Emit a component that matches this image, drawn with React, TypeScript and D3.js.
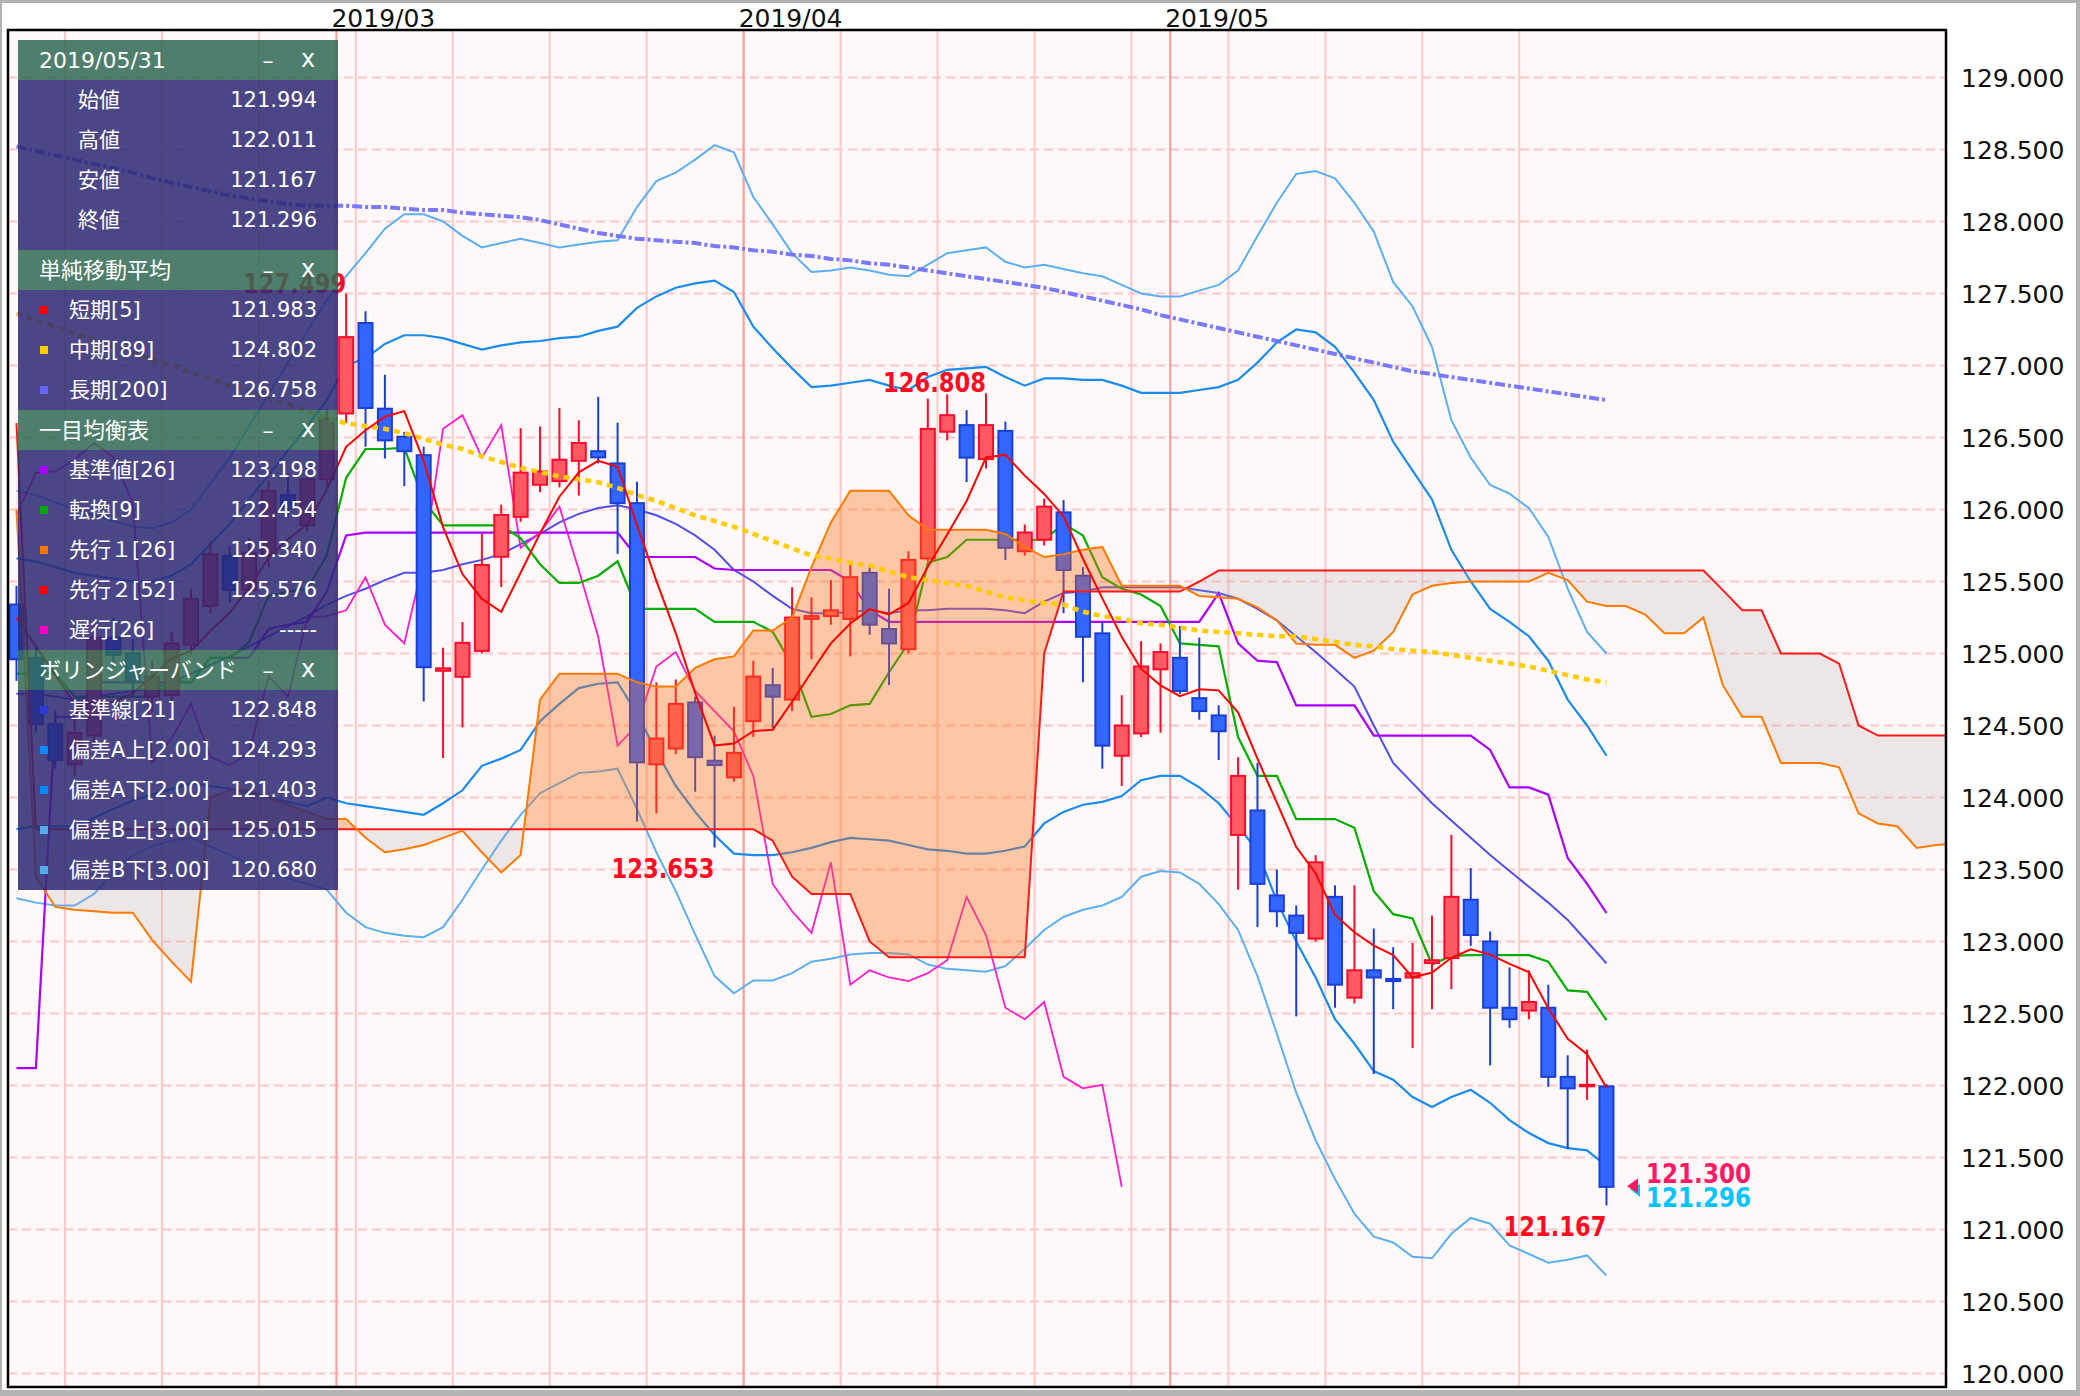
import React from 'react';
import * as d3 from 'd3';

// ---------------- data ----------------
// trading days 2019/02/06 .. 2019/05/31 (weekdays)
const dates: Date[] = d3.timeDay
  .range(new Date(2019, 1, 6), new Date(2019, 5, 1))
  .filter((d) => d.getDay() % 6 !== 0);

const opens = [
  125.34, 124.97, 124.51, 124.23, 124.43, 125.11, 125.0, 124.7, 124.71, 125.06,
  125.33, 125.68, 125.44, 125.69, 126.1, 125.89, 126.21, 126.667, 127.295, 126.7,
  126.505, 126.377, 124.88, 124.838, 125.018, 125.672, 125.949, 126.172, 126.197, 126.338,
  126.405, 126.32, 126.044, 124.23, 124.34, 124.66, 124.255, 124.14, 124.53, 124.78,
  124.68, 125.24, 125.26, 125.24, 125.56, 125.17, 125.03, 125.66, 126.54, 126.586,
  126.35, 126.546, 125.71, 125.79, 125.98, 125.54, 125.14, 124.29, 124.445, 124.89,
  124.97, 124.69, 124.57, 123.74, 123.91, 123.32, 123.18, 123.02, 123.31, 122.61,
  122.8, 122.74, 122.75, 122.85, 122.885, 123.29, 123.0, 122.54, 122.52, 122.54,
  122.06, 121.996, 121.994,
];
const highs = [
  125.47, 125.05, 124.6, 124.55, 125.2, 125.25, 125.1, 124.95, 125.15, 125.45,
  125.78, 125.75, 125.8, 126.2, 126.25, 126.3, 126.7, 127.499, 127.377, 126.936,
  126.538, 126.436, 125.04, 125.218, 125.833, 126.033, 126.564, 126.577, 126.705, 126.62,
  126.782, 126.603, 126.192, 124.8, 124.82, 124.7, 124.43, 124.63, 124.95, 124.9,
  125.46, 125.39, 125.51, 125.625, 125.61, 125.45, 125.71, 126.77, 126.8, 126.69,
  126.808, 126.61, 125.896, 126.076, 126.065, 125.6, 125.22, 124.71, 125.086, 125.07,
  125.19, 125.11, 124.64, 124.28, 124.24, 123.5, 123.25, 123.6, 123.39, 123.39,
  123.09, 122.96, 122.99, 123.18, 123.74, 123.51, 123.07, 122.82, 122.8, 122.7,
  122.21, 122.25, 122.011,
];
const lows = [
  124.81, 124.45, 124.2, 124.15, 124.35, 124.9, 124.7, 124.6, 124.65, 125.0,
  125.28, 125.35, 125.38, 125.6, 125.95, 125.85, 126.15, 126.6, 126.436, 126.354,
  126.162, 124.667, 124.274, 124.487, 125.0, 125.462, 125.915, 126.12, 126.154, 126.097,
  126.32, 125.692, 123.833, 123.89, 124.3, 124.04, 123.653, 124.11, 124.42, 124.48,
  124.6, 124.96, 125.2, 124.98, 125.13, 124.78, 125.0, 125.64, 126.48, 126.19,
  126.285, 125.65, 125.68, 125.75, 125.28, 124.8, 124.2, 124.08, 124.42, 124.45,
  124.72, 124.54, 124.26, 123.36, 123.1, 123.1, 122.48, 123.0, 122.54, 122.57,
  122.08, 122.53, 122.26, 122.53, 122.67, 122.97, 122.14, 122.4, 122.46, 121.99,
  121.56, 121.9, 121.167,
];
const closes = [
  124.96, 124.51, 124.26, 124.45, 125.11, 124.99, 124.81, 124.84, 125.07, 125.38,
  125.69, 125.44, 125.7, 126.13, 126.01, 126.21, 126.63, 127.197, 126.705, 126.48,
  126.405, 124.905, 124.897, 125.074, 125.615, 125.962, 126.256, 126.264, 126.346, 126.462,
  126.362, 126.044, 124.244, 124.41, 124.65, 124.28, 124.225, 124.31, 124.84, 124.7,
  125.25, 125.26, 125.3, 125.53, 125.2, 125.07, 125.65, 126.56, 126.655, 126.36,
  126.586, 125.734, 125.84, 126.02, 125.58, 125.116, 124.36, 124.5, 124.91, 125.01,
  124.74, 124.6, 124.46, 124.15, 123.4, 123.21, 123.06, 123.55, 122.7, 122.8,
  122.75, 122.725, 122.78, 122.87, 123.31, 123.045, 122.54, 122.46, 122.58, 122.06,
  121.98, 122.005, 121.296,
];

const sma5 = [
  125.25, 125.05, 124.85, 124.65, 124.658, 124.664, 124.724, 124.84, 124.964, 125.018,
  125.158, 125.284, 125.456, 125.668, 125.794, 125.898, 126.136, 126.435, 126.55, 126.644,
  126.683, 126.338, 125.878, 125.552, 125.379, 125.29, 125.561, 125.834, 126.089, 126.258,
  126.338, 126.296, 125.892, 125.504, 125.142, 124.726, 124.362, 124.375, 124.461, 124.471,
  124.665, 124.872, 125.07, 125.208, 125.308, 125.272, 125.35, 125.602, 125.827, 126.059,
  126.362, 126.379, 126.235, 126.108, 125.952, 125.658, 125.383, 125.115, 124.893, 124.779,
  124.704, 124.752, 124.744, 124.592, 124.27, 123.964, 123.656, 123.474, 123.184, 123.064,
  122.972, 122.905, 122.751, 122.785, 122.887, 122.946, 122.909, 122.845, 122.787, 122.537,
  122.324, 122.217, 121.984,
];
const sma89 = [
  127.36, 127.31, 127.27, 127.22, 127.18, 127.13, 127.09, 127.04, 127.0, 126.95,
  126.91, 126.86, 126.82, 126.77, 126.73, 126.68, 126.63, 126.6, 126.58, 126.56,
  126.53, 126.49, 126.45, 126.42, 126.37, 126.33, 126.29, 126.26, 126.23, 126.21,
  126.19, 126.15, 126.1, 126.06, 126.01, 125.96, 125.92, 125.88, 125.83, 125.78,
  125.73, 125.68, 125.66, 125.63, 125.61, 125.57, 125.53, 125.51, 125.49, 125.47,
  125.43, 125.39, 125.37, 125.35, 125.34, 125.29, 125.26, 125.24, 125.21, 125.2,
  125.18, 125.16, 125.15, 125.14, 125.13, 125.12, 125.12, 125.1, 125.08, 125.06,
  125.05, 125.03, 125.02, 125.01, 124.99, 124.97, 124.95, 124.93, 124.91, 124.88,
  124.85, 124.82, 124.8,
];
const sma200 = [
  128.52, 128.49, 128.46, 128.43, 128.4, 128.37, 128.34, 128.3, 128.27, 128.24,
  128.21, 128.18, 128.16, 128.14, 128.12, 128.11, 128.11, 128.11, 128.1, 128.1,
  128.09, 128.08, 128.08, 128.06, 128.05, 128.04, 128.03, 128.01, 127.98, 127.95,
  127.92, 127.9, 127.88, 127.87, 127.86, 127.85, 127.83, 127.82, 127.8, 127.79,
  127.77, 127.76, 127.74, 127.73, 127.71, 127.7, 127.68, 127.66, 127.64, 127.62,
  127.6, 127.58, 127.56, 127.54, 127.51, 127.48, 127.45, 127.42, 127.39, 127.35,
  127.32, 127.29, 127.26, 127.23, 127.2, 127.17, 127.14, 127.11, 127.08, 127.05,
  127.02, 126.99, 126.96, 126.94, 126.92, 126.9, 126.88, 126.86, 126.84, 126.82,
  126.8, 126.78, 126.76,
];

const tenkan = [
  124.86, 124.86, 124.86, 124.7, 124.7, 124.7, 124.7, 124.7, 124.81, 124.8,
  124.97, 124.97, 125.08, 125.4, 125.43, 125.45, 125.68, 126.22, 126.42, 126.42,
  126.43, 126.06, 125.89, 125.89, 125.89, 125.89, 125.8, 125.62, 125.49, 125.49,
  125.54, 125.64, 125.31, 125.31, 125.31, 125.31, 125.22, 125.22, 125.22, 125.15,
  124.92, 124.56, 124.58, 124.64, 124.65, 124.87, 125.07, 125.63, 125.67, 125.79,
  125.79, 125.79, 125.79, 125.79, 125.9, 125.82, 125.53, 125.45, 125.41, 125.33,
  125.07, 125.06, 125.05, 124.42, 124.15, 124.15, 123.85, 123.85, 123.85, 123.79,
  123.35, 123.19, 123.16, 122.84, 122.9, 122.905, 122.905, 122.905, 122.905, 122.86,
  122.66, 122.65, 122.454,
];
const kijun = [
  122.12, 122.12, 124.56, 124.56, 124.8, 124.8, 124.8, 124.8, 124.8, 124.8,
  124.97, 124.97, 124.97, 125.17, 125.2, 125.22, 125.43, 125.82, 125.84, 125.84,
  125.84, 125.84, 125.84, 125.84, 125.84, 125.84, 125.84, 125.84, 125.84, 125.84,
  125.84, 125.84, 125.67, 125.67, 125.67, 125.67, 125.59, 125.58, 125.58, 125.58,
  125.58, 125.58, 125.58, 125.5, 125.3, 125.22, 125.22, 125.22, 125.22, 125.22,
  125.22, 125.22, 125.22, 125.22, 125.22, 125.22, 125.22, 125.22, 125.22, 125.22,
  125.22, 125.22, 125.42, 125.07, 124.95, 124.94, 124.64, 124.64, 124.64, 124.64,
  124.43, 124.43, 124.43, 124.43, 124.43, 124.43, 124.33, 124.07, 124.07, 124.02,
  123.58, 123.4, 123.198,
];
// leading spans, plotted 25 bars ahead (indices run past the last candle)
const senkouA = [
  126.0, 123.45, 123.24, 123.22, 123.21, 123.2, 123.2, 123.01, 122.86, 122.72,
  124.0, 124.05, 124.05, 124.0, 123.95, 123.9, 123.85, 123.85, 123.72, 123.62,
  123.64, 123.67, 123.72, 123.77, 123.62, 123.48, 123.6, 124.68, 124.86, 124.86,
  124.86, 124.86, 124.8, 124.77, 124.77, 124.9, 124.96, 124.98, 125.16, 125.16,
  125.25, 125.6, 125.91, 126.13, 126.13, 126.13, 125.96, 125.86, 125.86, 125.86,
  125.86, 125.83, 125.74, 125.67, 125.69, 125.72, 125.74, 125.47, 125.47, 125.47,
  125.47, 125.4, 125.39, 125.38, 125.32, 125.23, 125.07, 125.06, 125.06, 124.97,
  125.02, 125.15, 125.41, 125.47, 125.49, 125.5, 125.5, 125.5, 125.5, 125.56,
  125.51, 125.36, 125.33, 125.33, 125.27, 125.14, 125.14, 125.25, 124.78, 124.56,
  124.56, 124.24, 124.24, 124.24, 124.21, 123.89, 123.82, 123.8, 123.65, 123.67,
  123.68,
];
const senkouB = [
  126.6, 123.78, 123.78, 123.78, 123.78, 123.78, 123.78, 123.78, 123.78, 123.78,
  123.78, 123.78, 123.78, 123.78, 123.78, 123.78, 123.78, 123.78, 123.78, 123.78,
  123.78, 123.78, 123.78, 123.78, 123.78, 123.78, 123.78, 123.78, 123.78, 123.78,
  123.78, 123.78, 123.78, 123.78, 123.78, 123.78, 123.78, 123.78, 123.78, 123.7,
  123.45, 123.33, 123.33, 123.33, 123.0, 122.89, 122.89, 122.89, 122.89, 122.89,
  122.89, 122.89, 122.89, 125.0, 125.43, 125.43, 125.43, 125.43, 125.43, 125.43,
  125.43, 125.5, 125.576, 125.576, 125.576, 125.576, 125.576, 125.576, 125.576, 125.576,
  125.576, 125.576, 125.576, 125.576, 125.576, 125.576, 125.576, 125.576, 125.576, 125.576,
  125.576, 125.576, 125.576, 125.576, 125.576, 125.576, 125.576, 125.576, 125.44, 125.3,
  125.3, 125.0, 125.0, 125.0, 124.93, 124.5, 124.43, 124.43, 124.43, 124.43,
  124.43,
];

const bbMid = [
  124.72, 124.72, 124.7, 124.68, 124.7, 124.72, 124.74, 124.76, 124.8, 124.86,
  124.92, 124.98, 125.05, 125.12, 125.19, 125.26, 125.34, 125.4, 125.45, 125.51,
  125.56, 125.56, 125.58, 125.62, 125.65, 125.69, 125.76, 125.83, 125.91, 125.97,
  126.01, 126.03, 126.0, 125.96, 125.9, 125.82, 125.72, 125.58, 125.5, 125.4,
  125.31, 125.28, 125.28, 125.29, 125.3, 125.28, 125.3, 125.3, 125.31, 125.31,
  125.31, 125.3, 125.28, 125.36, 125.42, 125.43, 125.46, 125.46, 125.46, 125.46,
  125.46, 125.44, 125.42, 125.38, 125.31, 125.23, 125.12, 125.01, 124.89, 124.77,
  124.5, 124.24, 124.1, 123.96, 123.84, 123.72, 123.6, 123.49, 123.38, 123.27,
  123.15, 123.0, 122.848,
];
const bbUp2 = [
  125.66, 125.64, 125.6, 125.56, 125.54, 125.52, 125.5, 125.5, 125.54, 125.62,
  125.76, 125.9, 126.07, 126.24, 126.41, 126.58, 126.76, 127.0, 127.05, 127.15,
  127.21, 127.21, 127.19, 127.15, 127.11, 127.14, 127.16, 127.17, 127.19, 127.2,
  127.24, 127.27, 127.4, 127.48, 127.54, 127.57, 127.59, 127.51, 127.27, 127.12,
  126.98, 126.85, 126.86, 126.88, 126.9, 126.86, 126.83, 126.92, 126.97, 126.98,
  126.99, 126.92, 126.86, 126.91, 126.91, 126.9, 126.9, 126.86, 126.81, 126.81,
  126.81, 126.83, 126.85, 126.9, 127.02, 127.16, 127.25, 127.23, 127.13, 126.95,
  126.76, 126.47, 126.27, 126.07, 125.72, 125.5, 125.31, 125.22, 125.12, 124.95,
  124.68, 124.5, 124.29,
];
const bbLo2 = [
  123.78, 123.8, 123.8, 123.8, 123.86, 123.92, 123.98, 124.02, 124.06, 124.1,
  124.08, 124.06, 124.03, 124.0, 123.97, 123.94, 124.0, 123.96, 123.94, 123.92,
  123.9, 123.88, 123.96, 124.05, 124.22, 124.27, 124.33, 124.53, 124.65, 124.76,
  124.79, 124.8, 124.58, 124.32, 124.08, 123.9, 123.74, 123.61, 123.6, 123.6,
  123.62, 123.65, 123.69, 123.72, 123.71, 123.7, 123.67, 123.64, 123.63, 123.61,
  123.61, 123.63, 123.66, 123.82, 123.9, 123.95, 123.97, 124.01, 124.12, 124.15,
  124.15, 124.07, 123.96, 123.8, 123.63, 123.28, 123.0, 122.75, 122.46, 122.29,
  122.1, 122.04, 121.92, 121.85, 121.92, 121.97, 121.88, 121.76, 121.67, 121.6,
  121.565, 121.55, 121.44,
];
const bbUp3 = [
  126.13, 126.1, 126.05, 126.0, 125.96, 125.92, 125.88, 125.87, 125.91, 126.0,
  126.18, 126.36, 126.58, 126.8, 127.02, 127.24, 127.45, 127.62, 127.78, 127.95,
  128.05, 128.05, 128.0, 127.9, 127.82, 127.85, 127.88, 127.85, 127.82, 127.84,
  127.86, 127.87, 128.1, 128.28, 128.34, 128.43, 128.53, 128.48, 128.17, 127.98,
  127.78, 127.65, 127.66, 127.68, 127.66, 127.63, 127.62, 127.7, 127.78, 127.8,
  127.82, 127.72, 127.68, 127.7, 127.67, 127.64, 127.62, 127.56, 127.5, 127.48,
  127.48, 127.52, 127.56, 127.66, 127.9, 128.13, 128.33, 128.35, 128.3, 128.13,
  127.93, 127.58, 127.41, 127.13, 126.62, 126.36, 126.17, 126.11, 126.01, 125.81,
  125.45, 125.15, 125.0,
];
const bbLo3 = [
  123.3, 123.27, 123.25, 123.25, 123.33, 123.48, 123.6, 123.66, 123.7, 123.72,
  123.66, 123.6, 123.54, 123.48, 123.44, 123.4, 123.36, 123.2, 123.1, 123.06,
  123.04, 123.03, 123.1, 123.29, 123.5, 123.7, 123.88, 124.03, 124.1, 124.17,
  124.18, 124.2, 123.92, 123.62, 123.35, 123.05, 122.76, 122.64, 122.73, 122.73,
  122.78, 122.86, 122.88, 122.91, 122.92, 122.92, 122.91, 122.84, 122.81, 122.8,
  122.79, 122.83, 122.95, 123.08, 123.17, 123.22, 123.25, 123.31, 123.45, 123.49,
  123.48, 123.4, 123.26, 123.08, 122.76, 122.36, 121.95, 121.62, 121.35, 121.11,
  120.95, 120.91, 120.81, 120.8, 120.97, 121.08, 121.04, 120.89, 120.83, 120.77,
  120.79, 120.82, 120.68,
];
// lagging span: close plotted 25 bars back
const CHIKOU_SHIFT = 25;

const yTicks = [120, 120.5, 121, 121.5, 122, 122.5, 123, 123.5, 124, 124.5, 125, 125.5, 126, 126.5, 127, 127.5, 128, 128.5, 129];

const highMarks = [17, 50]; // candle indices with labelled highs
const lowMarks = [36, 82]; // candle indices with labelled lows
const askPrice = 121.3;

const smaRows = [
  { label: '短期[5]', color: '#ff0000', value: 121.983 },
  { label: '中期[89]', color: '#ffcc00', value: 124.802 },
  { label: '長期[200]', color: '#6666ff', value: 126.758 },
];
const ichiRows = [
  { label: '基準値[26]', color: '#aa00ff', value: 123.198 },
  { label: '転換[9]', color: '#00aa00', value: 122.454 },
  { label: '先行１[26]', color: '#ff7700', value: 125.34 },
  { label: '先行２[52]', color: '#ff0000', value: 125.576 },
  { label: '遅行[26]', color: '#ff00cc', value: null as number | null },
];
const bbRows = [
  { label: '基準線[21]', color: '#2a3ad8', value: 122.848 },
  { label: '偏差A上[2.00]', color: '#0a88ff', value: 124.293 },
  { label: '偏差A下[2.00]', color: '#0a88ff', value: 121.403 },
  { label: '偏差B上[3.00]', color: '#55aaf0', value: 125.015 },
  { label: '偏差B下[3.00]', color: '#55aaf0', value: 120.68 },
];

// ---------------- helpers ----------------
type Run = { up: boolean; pa: [number, number][]; pb: [number, number][] };
function cloudRuns(a: number[], b: number[]): Run[] {
  const runs: Run[] = [];
  let cur: Run = { up: a[0] >= b[0], pa: [[0, a[0]]], pb: [[0, b[0]]] };
  for (let k = 0; k < a.length - 1; k++) {
    const d0 = a[k] - b[k];
    const d1 = a[k + 1] - b[k + 1];
    const up1 = a[k + 1] >= b[k + 1];
    if (up1 !== cur.up) {
      const t = d0 - d1 === 0 ? 0 : d0 / (d0 - d1);
      const kc = k + t;
      const vc = a[k] + t * (a[k + 1] - a[k]);
      cur.pa.push([kc, vc]);
      cur.pb.push([kc, vc]);
      runs.push(cur);
      cur = { up: up1, pa: [[kc, vc]], pb: [[kc, vc]] };
    }
    cur.pa.push([k + 1, a[k + 1]]);
    cur.pb.push([k + 1, b[k + 1]]);
  }
  runs.push(cur);
  return runs;
}

const fmt = d3.format('.3f');
const AXIS_FONT = "'DejaVu Sans', 'Noto Sans', sans-serif";
const PANEL_FONT = "'DejaVu Sans', 'Noto Sans CJK JP', sans-serif";

export default function App() {
  const W = 2080;
  const H = 1396;
  const P = { l: 8, t: 30, r: 1946, b: 1387 };
  const slot = 19.39;
  const x = d3.scaleLinear().domain([0, 82]).range([16.5, 16.5 + 82 * slot]);
  const y = d3.scaleLinear().domain([120, 129]).range([1373.5, 77.5]);

  const path = (vals: number[], off = 0) =>
    d3
      .line<number>()
      .x((_, k) => x(k + off))
      .y((v) => y(v))(vals) || '';

  const chikou = closes.slice(CHIKOU_SHIFT);

  // grid lines
  const weekLines: number[] = [];
  const monthLines: { k: number; label: string }[] = [];
  dates.forEach((d, k) => {
    if (d.getDay() === 1) weekLines.push(k);
    if (k > 0 && d.getMonth() !== dates[k - 1].getMonth())
      monthLines.push({ k, label: d3.timeFormat('%Y/%m')(d) });
  });
  const edge = (k: number) => x(k) - slot / 2;

  const runs = cloudRuns(senkouA, senkouB);
  const polyPath = (r: Run) => {
    const pts = [...r.pa, ...r.pb.slice().reverse()];
    return 'M' + pts.map((p) => `${x(p[0]).toFixed(2)},${y(p[1]).toFixed(2)}`).join('L') + 'Z';
  };

  const last = closes.length - 1;

  // panel layout
  const panelX = 18;
  const panelW = 320;
  const rowH = 40;
  const hdrFill = '#2f6a55';
  const bodyFill = '#2c2873';
  const panelAlpha = 0.85;
  const sections: {
    title: string;
    rows: { label: string; color?: string; value: string }[];
    plain?: boolean;
    pad?: number;
  }[] = [
    {
      title: d3.timeFormat('%Y/%m/%d')(dates[last]),
      plain: true,
      pad: 10,
      rows: [
        { label: '始値', value: fmt(opens[last]) },
        { label: '高値', value: fmt(highs[last]) },
        { label: '安値', value: fmt(lows[last]) },
        { label: '終値', value: fmt(closes[last]) },
      ],
    },
    { title: '単純移動平均', rows: smaRows.map((r) => ({ ...r, value: fmt(r.value) })) },
    { title: '一目均衡表', rows: ichiRows.map((r) => ({ ...r, value: r.value == null ? '-----' : fmt(r.value) })) },
    { title: 'ボリンジャーバンド', rows: bbRows.map((r) => ({ ...r, value: fmt(r.value) })) },
  ];
  let cy = 40;
  const panelEls: React.ReactNode[] = [];
  sections.forEach((s, si) => {
    panelEls.push(
      <rect key={`h${si}`} x={panelX} y={cy} width={panelW} height={rowH} fill={hdrFill} fillOpacity={panelAlpha} />
    );
    panelEls.push(
      <text key={`ht${si}`} x={39} y={cy + 20} dominantBaseline="central" fill="#fff" fontSize={22} fontFamily={PANEL_FONT}>
        {s.title}
      </text>
    );
    panelEls.push(
      <text key={`hm${si}`} x={268} y={cy + 20} dominantBaseline="central" textAnchor="middle" fill="#fff" fontSize={22} fontFamily={PANEL_FONT}>
        –
      </text>
    );
    panelEls.push(
      <text key={`hx${si}`} x={308} y={cy + 19} dominantBaseline="central" textAnchor="middle" fill="#fff" fontSize={24} fontFamily={PANEL_FONT}>
        x
      </text>
    );
    cy += rowH;
    const bodyH = s.rows.length * rowH + (s.pad || 0);
    panelEls.push(
      <rect key={`b${si}`} x={panelX} y={cy} width={panelW} height={bodyH} fill={bodyFill} fillOpacity={panelAlpha} />
    );
    s.rows.forEach((r, ri) => {
      const ry = cy + rowH / 2 + ri * rowH;
      if (!s.plain && r.color)
        panelEls.push(<rect key={`m${si}-${ri}`} x={40} y={ry - 4} width={8} height={8} fill={r.color} />);
      panelEls.push(
        <text key={`l${si}-${ri}`} x={s.plain ? 78 : 69} y={ry} dominantBaseline="central" fill="#fff" fontSize={21} fontFamily={PANEL_FONT}>
          {r.label}
        </text>
      );
      panelEls.push(
        <text key={`v${si}-${ri}`} x={317} y={ry} dominantBaseline="central" textAnchor="end" fill="#fff" fontSize={21} fontFamily={PANEL_FONT}>
          {r.value}
        </text>
      );
    });
    cy += bodyH;
  });

  const boldLabel = {
    fontFamily: AXIS_FONT,
    fontWeight: 700 as const,
    fontSize: 26,
  };

  return (
    <svg
      width={W}
      height={H}
      viewBox={`0 0 ${W} ${H}`}
      style={{ position: 'absolute', left: 0, top: 0, display: 'block', background: '#fff' }}
    >
      <defs>
        <clipPath id="plotClip">
          <rect x={P.l} y={P.t} width={P.r - P.l} height={P.b - P.t} />
        </clipPath>
      </defs>
      <rect x={0} y={0} width={W} height={H} fill="#fff" />
      {/* outer gray frame */}
      <rect x={0} y={0} width={W} height={3} fill="#b3b3b3" />
      <rect x={0} y={0} width={2} height={H} fill="#b3b3b3" />
      <rect x={W - 4} y={0} width={4} height={H} fill="#b3b3b3" />
      <rect x={0} y={H - 6} width={W} height={6} fill="#b3b3b3" />

      <rect x={P.l} y={P.t} width={P.r - P.l} height={P.b - P.t} fill="#fff8f8" />

      <g clipPath="url(#plotClip)">
        {/* horizontal grid */}
        {yTicks.map((v) => (
          <line key={`hg${v}`} x1={P.l} x2={P.r} y1={y(v)} y2={y(v)} stroke="#ffc6c6" strokeWidth={2} strokeDasharray="9,5" />
        ))}
        {/* weekly & month lines */}
        {weekLines.map((k) => (
          <line key={`wg${k}`} x1={edge(k)} x2={edge(k)} y1={P.t} y2={P.b} stroke="#ffc8c8" strokeWidth={2} />
        ))}
        {monthLines.map((m) => (
          <line key={`mg${m.k}`} x1={edge(m.k)} x2={edge(m.k)} y1={P.t} y2={P.b} stroke="#ff9d9d" strokeWidth={2} />
        ))}

        {/* bollinger bands */}
        <path d={path(bbUp3)} fill="none" stroke="#5cb0f2" strokeWidth={2} />
        <path d={path(bbLo3)} fill="none" stroke="#5cb0f2" strokeWidth={2} />
        <path d={path(bbUp2)} fill="none" stroke="#1a8cf0" strokeWidth={2.2} />
        <path d={path(bbLo2)} fill="none" stroke="#1a8cf0" strokeWidth={2.2} />
        <path d={path(bbMid)} fill="none" stroke="#5050ec" strokeWidth={2} />

        {/* ichimoku lines */}
        <path d={path(chikou)} fill="none" stroke="#ff1ccc" strokeWidth={1.8} />
        <path d={path(kijun)} fill="none" stroke="#aa00ff" strokeWidth={2.2} />
        <path d={path(tenkan)} fill="none" stroke="#00b000" strokeWidth={2.2} />

        {/* candles */}
        {closes.map((c, k) => {
          const o = opens[k];
          const up = c >= o;
          const stroke = up ? '#ff0a2a' : '#1a3fd6';
          const fill = up ? '#ff5a64' : '#3366ff';
          const cx = x(k);
          const top = y(Math.max(o, c));
          const bot = y(Math.min(o, c));
          return (
            <g key={`c${k}`}>
              <line x1={cx} x2={cx} y1={y(highs[k])} y2={y(lows[k])} stroke={stroke} strokeWidth={2} />
              <rect x={cx - 7} y={top} width={14} height={Math.max(1.5, bot - top)} fill={fill} stroke={stroke} strokeWidth={2} />
            </g>
          );
        })}

        {/* cloud */}
        {runs.map((r, i) => (
          <path key={`cl${i}`} d={polyPath(r)} fill={r.up ? 'rgba(250,110,20,0.36)' : 'rgba(175,170,170,0.22)'} stroke="none" />
        ))}
        <path d={path(senkouB)} fill="none" stroke="#ff1a1a" strokeWidth={2} />
        <path d={path(senkouA)} fill="none" stroke="#ff7a00" strokeWidth={2} />

        {/* moving averages */}
        <path d={path(sma200)} fill="none" stroke="#6b6bff" strokeWidth={4} strokeDasharray="10,3,3,3" strokeOpacity={0.9} />
        <path d={path(sma89)} fill="none" stroke="#ffcc00" strokeWidth={4.5} strokeDasharray="6,5" />
        <path d={path(sma5)} fill="none" stroke="#ff0000" strokeWidth={2} />

        {/* high / low labels */}
        {highMarks.map((k) => (
          <text key={`hl${k}`} x={x(k)} y={y(highs[k]) - 1} textAnchor="end" fill="#ff0a1e" textLength={103} lengthAdjust="spacingAndGlyphs" {...boldLabel}>
            {fmt(highs[k])}
          </text>
        ))}
        {lowMarks.map((k) => (
          <text key={`ll${k}`} x={x(k)} y={y(lows[k]) + 31} textAnchor="end" fill="#ff0a1e" textLength={103} lengthAdjust="spacingAndGlyphs" {...boldLabel}>
            {fmt(lows[k])}
          </text>
        ))}

        {/* current price markers */}
        <polygon points={`1630,${y(closes[last]) + 2} 1640,${y(closes[last]) - 3} 1640,${y(closes[last]) + 10}`} fill="#00c4ff" />
        <polygon points={`1627,${y(askPrice)} 1638,${y(askPrice) - 8} 1638,${y(askPrice) + 7}`} fill="#ff1a66" />
        <text x={1646} y={y(askPrice) - 3} fill="#ff1a66" textLength={105} lengthAdjust="spacingAndGlyphs" {...boldLabel}>
          {fmt(askPrice)}
        </text>
        <text x={1646} y={y(closes[last]) + 20} fill="#00c4ff" textLength={105} lengthAdjust="spacingAndGlyphs" {...boldLabel}>
          {fmt(closes[last])}
        </text>

        {/* info panel */}
        {panelEls}
      </g>

      {/* plot frame */}
      <rect x={P.l} y={P.t} width={P.r - P.l} height={P.b - P.t} fill="none" stroke="#000" strokeWidth={2.5} />

      {/* right axis labels */}
      {yTicks.map((v) => (
        <text key={`yt${v}`} x={1961} y={y(v) + 9} fontSize={25} fontFamily={AXIS_FONT} fill="#111">
          {fmt(v)}
        </text>
      ))}
      {/* month labels */}
      {monthLines.map((m) => (
        <text key={`ml${m.k}`} x={edge(m.k) - 5} y={27} fontSize={25} fontFamily={AXIS_FONT} fill="#111">
          {m.label}
        </text>
      ))}
    </svg>
  );
}
